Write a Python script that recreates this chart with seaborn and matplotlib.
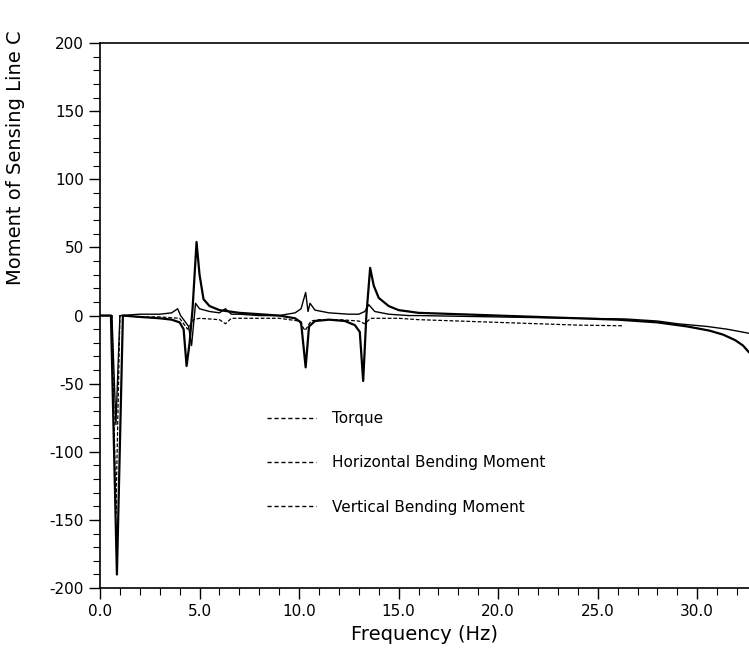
# Respons momen pada sensing line C terhadap frekuensi
import numpy as np
import pandas as pd
import matplotlib
matplotlib.use("Agg")
import matplotlib.pyplot as plt
import seaborn as sns
from matplotlib.lines import Line2D
from matplotlib.ticker import MultipleLocator, FormatStrFormatter

# Data (Hz, momen)
freq_torque = [0.0, 0.55, 0.85, 1.15, 2.0, 3.0, 3.6, 4.0, 4.2, 4.35, 4.5, 4.65, 4.85,
               5.0, 5.2, 5.5, 6.0, 7.0, 8.0, 9.0, 9.8, 10.1, 10.33, 10.5, 10.8, 11.5,
               12.3, 12.8, 13.05, 13.22, 13.38, 13.57, 13.75, 14.0, 14.5, 15.0, 16.0,
               18.0, 20.0, 22.0, 24.0, 26.0, 28.0, 29.5, 30.6, 31.3, 31.9, 32.3, 32.6]
mom_torque = [0, 0, -190, 0, -1, -2, -3, -5, -10, -37, -20, 5, 54,
              30, 12, 7, 4, 2, 1, 0, -2, -5, -38, -8, -4, -3,
              -4, -7, -12, -48, 0, 35, 22, 13, 7, 4, 2,
              1, 0, -1, -2, -3, -5, -8, -11, -14, -18, -22, -27]

freq_horiz = [0.0, 0.6, 0.8, 1.0, 2.0, 3.0, 3.6, 3.9, 4.05, 4.2, 4.45, 4.6, 4.8, 5.0,
              5.5, 6.0, 6.3, 6.6, 7.0, 8.0, 9.0, 9.8, 10.1, 10.33, 10.45, 10.55, 10.8,
              11.5, 12.5, 13.0, 13.3, 13.5, 13.8, 14.5, 15.5, 16.0, 18.0, 20.0, 22.0,
              24.0, 26.4, 28.0, 29.0, 30.5, 31.5, 32.6]
mom_horiz = [0, 0, -80, 0, 1, 1, 2, 5, 0, -3, -8, -22, 9, 5,
             3, 2, 5, 1, 1, 0, 0, 2, 5, 17, 3, 9, 4,
             2, 1, 1, 3, 8, 3, 1, 0, 0, -0.5, -1, -1.5,
             -2, -2.5, -4, -6, -8, -10, -13]

freq_vert = [0.0, 0.6, 0.8, 1.0, 2.0, 3.0, 4.0, 4.4, 4.7, 5.0, 6.0, 6.3, 6.6, 7.0,
             8.0, 9.0, 10.0, 10.3, 10.6, 11.0, 12.0, 13.0, 13.3, 13.6, 14.0, 15.0,
             16.0, 18.0, 20.0, 22.0, 24.0, 26.3]
mom_vert = [0, 0, -145, 0, -1, -1, -2, -10, -3, -2, -3, -6, -2, -2,
            -2, -2, -4, -11, -4, -3, -3, -4, -6, -2, -2, -2,
            -3, -4, -5, -6, -7, -7.5]

labels = ["Torque", "Horizontal Bending Moment", "Vertical Bending Moment"]

# Plotting
sns.set_style("ticks")
plt.rcParams["font.family"] = ["DejaVu Sans"]
plt.rcParams["axes.unicode_minus"] = False

fig = plt.figure(figsize=(7.49, 6.52), dpi=100)
ax = fig.add_axes([0.1335, 0.098, 0.8665, 0.836])

sns.lineplot(x=freq_torque, y=mom_torque, ax=ax, color="black", lw=1.6,
             estimator=None, sort=False)
sns.lineplot(x=freq_horiz, y=mom_horiz, ax=ax, color="black", lw=1.0,
             estimator=None, sort=False)
sns.lineplot(x=freq_vert, y=mom_vert, ax=ax, color="black", lw=0.9,
             linestyle=(0, (3, 1.5)), estimator=None, sort=False)

ax.set_xlim(0, 32.6)
ax.set_ylim(-200, 200)

ax.xaxis.set_major_locator(MultipleLocator(5))
ax.xaxis.set_minor_locator(MultipleLocator(1))
ax.xaxis.set_major_formatter(FormatStrFormatter("%.1f"))
ax.yaxis.set_major_locator(MultipleLocator(50))
ax.yaxis.set_minor_locator(MultipleLocator(10))

ax.tick_params(which="major", direction="out", length=8, width=1,
               color="black", labelsize=11, labelcolor="black")
ax.tick_params(which="minor", direction="out", length=5, width=0.8, color="black")

for side in ["left", "bottom", "top"]:
    ax.spines[side].set_color("black")
    ax.spines[side].set_linewidth(1.2)
ax.spines["right"].set_visible(False)

ax.set_xlabel("Frequency (Hz)", fontsize=14, color="black")
ax.set_ylabel("Moment of Sensing Line C", fontsize=14, color="black")
ax.yaxis.set_label_coords(-0.115, 0.79)

# Legend tanpa frame, handle garis putus-putus
handles = [Line2D([0], [0], color="black", lw=1.0, linestyle=(0, (3, 2)))
           for _ in labels]
ax.legend(handles, labels, loc="upper left", bbox_to_anchor=(0.245, 0.339),
          frameon=False, fontsize=11, labelspacing=1.92, handlelength=3.2,
          handletextpad=1.1, borderpad=0, labelcolor="black")

fig.savefig("out.png", dpi=100)
